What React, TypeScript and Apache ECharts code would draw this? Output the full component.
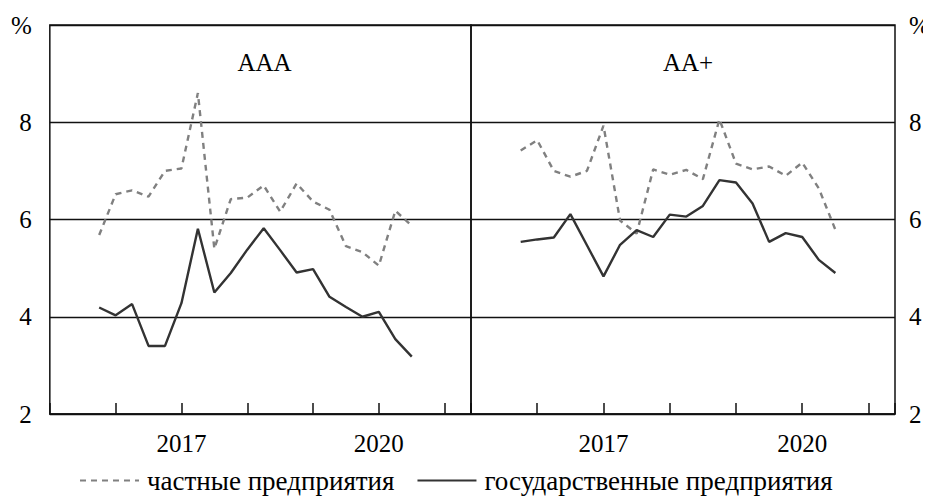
import React, { useEffect, useRef } from "react";
import * as echarts from "echarts";

const periods = [
  "2015Q4", "2016Q1", "2016Q2", "2016Q3", "2016Q4",
  "2017Q1", "2017Q2", "2017Q3", "2017Q4",
  "2018Q1", "2018Q2", "2018Q3", "2018Q4",
  "2019Q1", "2019Q2", "2019Q3", "2019Q4",
  "2020Q1", "2020Q2", "2020Q3",
];

const aaaPrivate = [5.68, 6.52, 6.6, 6.47, 7.0, 7.05, 8.6, 5.4, 6.42, 6.45, 6.7, 6.16, 6.74, 6.37, 6.2, 5.45, 5.33, 5.05, 6.18, 5.87];
const aaaState = [4.19, 4.03, 4.26, 3.4, 3.4, 4.28, 5.81, 4.5, 4.9, 5.38, 5.82, 5.37, 4.91, 4.98, 4.41, 4.2, 4.0, 4.1, 3.54, 3.18];
const aaPlusPrivate = [7.42, 7.63, 7.0, 6.88, 7.0, 7.93, 5.98, 5.71, 7.03, 6.92, 7.02, 6.83, 8.06, 7.15, 7.03, 7.09, 6.9, 7.17, 6.64, 5.79];
const aaPlusState = [5.54, 5.59, 5.63, 6.11, 5.47, 4.83, 5.48, 5.78, 5.64, 6.1, 6.06, 6.28, 6.81, 6.76, 6.33, 5.54, 5.72, 5.64, 5.17, 4.9];

const panelTitles = ["AAA", "AA+"];
const yearLabels = [2017, 2020];
const seriesNames = ["частные предприятия", "государственные предприятия"];

const FONT = "Liberation Serif";

function periodToX(p: string): number {
  const year = Number(p.slice(0, 4));
  const q = Number(p.slice(5));
  return year + (q - 1) / 4;
}

function toPoints(values: number[]) {
  return values.map((v, i) => [periodToX(periods[i]), v]);
}

export default function App() {
  const ref = useRef<HTMLDivElement>(null);

  useEffect(() => {
    if (!ref.current) return;
    const chart = echarts.init(ref.current, null, { renderer: "svg" });

    // the chart div sits inside the page's default 8px body margin
    const grids = [
      { left: 40, top: 17, width: 423, height: 389 },
      { left: 463, top: 17, width: 424, height: 389 },
    ];

    const xMin = 2015;
    const xMax = 2021.4;

    const xAxes: any[] = [];
    grids.forEach((_, gi) => {
      xAxes.push({
        type: "value",
        gridIndex: gi,
        position: "bottom",
        min: xMin,
        max: xMax,
        interval: 1,
        axisLine: { show: true, lineStyle: { color: "#111", width: 1.5 } },
        axisTick: { show: true, inside: true, length: 11, lineStyle: { color: "#111", width: 1.5 } },
        axisLabel: { show: false },
        splitLine: { show: false },
      });
      xAxes.push({
        type: "value",
        gridIndex: gi,
        position: "bottom",
        min: xMin - 0.5,
        max: xMax - 0.5,
        interval: 1,
        axisLine: { show: false },
        axisTick: { show: false },
        splitLine: { show: false },
        axisLabel: {
          show: true,
          margin: 17,
          color: "#000",
          fontFamily: FONT,
          fontSize: 25,
          showMinLabel: true,
          showMaxLabel: false,
          formatter: (v: number) => (yearLabels.includes(Math.round(v)) ? String(Math.round(v)) : ""),
        },
      });
    });

    const yAxes = grids.map((_, gi) => ({
      type: "value",
      gridIndex: gi,
      position: gi === 0 ? "left" : "right",
      min: 2,
      max: 10,
      interval: 2,
      axisLine: { show: false },
      axisTick: { show: false },
      axisLabel: {
        show: true,
        margin: gi === 0 ? 18 : 14,
        color: "#000",
        fontFamily: FONT,
        fontSize: 25,
        formatter: (v: number) => (v === 10 ? "%" : String(v)),
      },
      splitLine: { show: true, lineStyle: { color: "#111", width: 1.3 } },
    }));

    const panelData = [
      [aaaPrivate, aaaState],
      [aaPlusPrivate, aaPlusState],
    ];

    const series: any[] = [];
    panelData.forEach((pair, gi) => {
      pair.forEach((vals, si) => {
        series.push({
          type: "line",
          name: seriesNames[si],
          xAxisIndex: gi * 2,
          yAxisIndex: gi,
          data: toPoints(vals),
          symbol: "none",
          lineStyle:
            si === 0
              ? { color: "#808080", width: 2.4, type: [6, 5] }
              : { color: "#333333", width: 2.4, type: "solid" },
          itemStyle: { color: si === 0 ? "#808080" : "#333333" },
          z: si === 0 ? 3 : 4,
        });
      });
    });

    chart.setOption({
      animation: false,
      title: panelTitles.map((t, gi) => ({
        text: t,
        left: grids[gi].left + grids[gi].width / 2,
        top: 37,
        textAlign: "center",
        textStyle: { fontFamily: FONT, fontSize: 25, fontWeight: "normal", color: "#000" },
      })),
      grid: grids.map((g) => ({
        ...g,
        show: true,
        borderColor: "#111",
        borderWidth: 1.5,
        backgroundColor: "transparent",
      })),
      legend: {
        data: seriesNames,
        left: 66,
        top: 454,
        itemWidth: 59,
        itemHeight: 14,
        itemGap: 22,
        itemStyle: { opacity: 0 },
        textStyle: {
          fontFamily: FONT,
          fontSize: 27,
          color: "#000",
          padding: [0, 0, 0, 3],
        },
      },
      xAxis: xAxes,
      yAxis: yAxes,
      series,
    });

    return () => chart.dispose();
  }, []);

  return <div ref={ref} style={{ width: 931, height: 496 }} />;
}
